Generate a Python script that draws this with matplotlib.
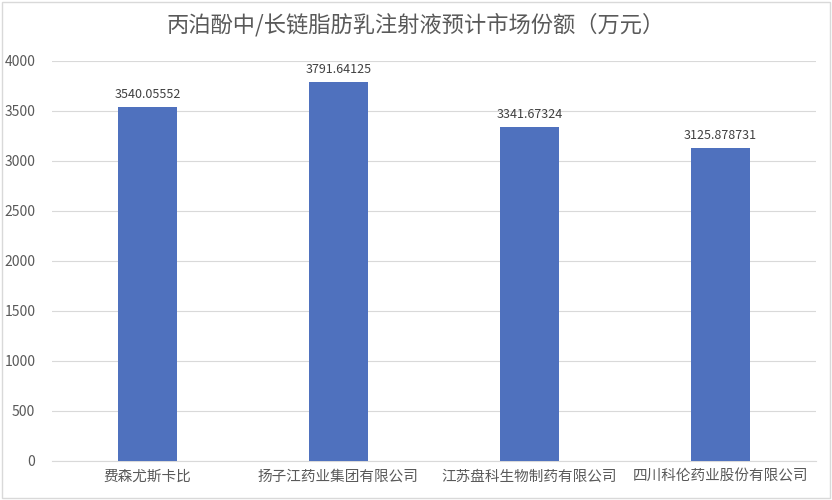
import matplotlib.pyplot as plt
from matplotlib.patches import Rectangle

plt.rcParams['font.family'] = ['Noto Sans CJK SC', 'DejaVu Sans']

# data
companies = ['费森尤斯卡比', '扬子江药业集团有限公司', '江苏盘科生物制药有限公司', '四川科伦药业股份有限公司']
values = [3540.05552, 3791.64125, 3341.67324, 3125.878731]
labels = ['3540.05552', '3791.64125', '3341.67324', '3125.878731']
yticks = [0, 500, 1000, 1500, 2000, 2500, 3000, 3500, 4000]

fig = plt.figure(figsize=(8.32, 5), dpi=100)
ax = fig.add_axes([0.0625, 0.078, 0.918, 0.8])

x = range(len(companies))
bars = ax.bar(x, values, width=0.31, color='#4F71BE', zorder=3)
for b, t in zip(bars, labels):
    ax.text(b.get_x() + b.get_width() / 2, b.get_height() + 60, t,
            ha='center', va='bottom', fontsize=9, color='#404040')

ax.set_xlim(-0.5, len(companies) - 0.5)
ax.set_ylim(0, 4000)
ax.set_yticks(yticks)
ax.set_xticks(list(x))
ax.set_xticklabels(companies, fontsize=10.5)
ax.tick_params(axis='both', length=0, colors='#595959')
ax.tick_params(axis='y', labelsize=10, pad=12)
ax.tick_params(axis='x', pad=6)
ax.grid(axis='y', color='#d9d9d9', linewidth=0.8, zorder=0)
for s in ['top', 'right', 'left']:
    ax.spines[s].set_visible(False)
ax.spines['bottom'].set_color('#d9d9d9')

fig.text(0.5, 0.95, '丙泊酚中/长链脂肪乳注射液预计市场份额（万元）',
         ha='center', va='center', fontsize=16, color='#595959')

fig.patches.append(Rectangle((0.002, 0.004), 0.996, 0.992, transform=fig.transFigure,
                             fill=False, edgecolor='#d9d9d9', linewidth=1))

fig.savefig('out.png', dpi=100)
